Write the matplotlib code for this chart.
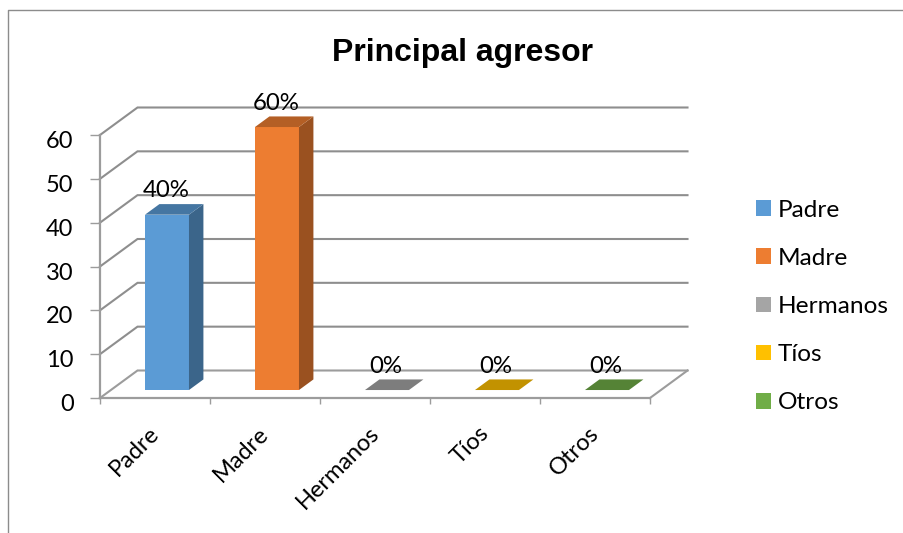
import numpy as np
import matplotlib
matplotlib.use("Agg")
import matplotlib.pyplot as plt
from matplotlib.colors import to_rgb
from matplotlib.patches import Patch, Polygon
from matplotlib.transforms import ScaledTranslation

# Data
categorias = ["Padre", "Madre", "Hermanos", "Tíos", "Otros"]
valores = [40, 60, 0, 0, 0]
etiquetas = ["40%", "60%", "0%", "0%", "0%"]
colores = ["#5B9BD5", "#ED7D31", "#A5A5A5", "#FFC000", "#70AD47"]
y_ticks = [0, 10, 20, 30, 40, 50, 60]

W, H = 904, 533
GRIS = "#9C9C9C"
plt.rcParams["font.family"] = ["Lato", "DejaVu Sans"]

fig = plt.figure(figsize=(W / 100, H / 100), dpi=100)
# front plane of the 3D box, in pixels: x 100-650, y 398-135
ax = fig.add_axes([100 / W, (H - 398) / H, 550 / W, 263 / H])
ax.set_xlim(0, 5)
ax.set_ylim(0, 60)
ax.patch.set_alpha(0)

# depth of the box expressed in data units
DX = 37.5 / 110
DY = 27.5 / (263 / 60)


def prof(x, y, d):
    return (x + d * DX, y + d * DY)


# walls: lines going back from the axis and along the back wall
for v in y_ticks:
    xs = [0, DX, 5 + DX]
    ys = [v, v + DY, v + DY]
    ax.plot(xs, ys, color="#8E8E8E" if v else GRIS, lw=1.5, clip_on=False, zorder=1,
            solid_joinstyle="miter")
ax.plot([5, 5 + DX], [0, DY], color=GRIS, lw=1.5, clip_on=False, zorder=1)

# bars as oblique boxes
ancho = 0.4
d0, d1 = 0.29, 0.675
for i, (v, c) in enumerate(zip(valores, colores)):
    x0 = i + 0.51 - ancho / 2
    x1 = x0 + ancho
    rgb = np.array(to_rgb(c))
    frente = [prof(x0, 0, d0), prof(x1, 0, d0), prof(x1, v, d0), prof(x0, v, d0)]
    lado = [prof(x1, 0, d0), prof(x1, 0, d1), prof(x1, v, d1), prof(x1, v, d0)]
    tapa = [prof(x0, v, d0), prof(x1, v, d0), prof(x1, v, d1), prof(x0, v, d1)]
    if v > 0:
        ax.add_patch(Polygon(frente, fc=c, ec="none", clip_on=False, zorder=3))
        ax.add_patch(Polygon(lado, fc=rgb * 0.65, ec="none", clip_on=False, zorder=3))
    ax.add_patch(Polygon(tapa, fc=rgb * 0.76, ec="none", clip_on=False, zorder=3))
    # data labels
    ax.annotate(etiquetas[i], xy=prof(i + 0.5, v, d0), xytext=(0, 24 * 0.72),
                textcoords="offset points", ha="center", va="center",
                fontsize=17.3, color="black", annotation_clip=False, zorder=5)

# axes
for s in ["top", "right"]:
    ax.spines[s].set_visible(False)
for s in ["left", "bottom"]:
    ax.spines[s].set_color(GRIS)
    ax.spines[s].set_linewidth(1.6)
    ax.spines[s].set_zorder(2)
ax.set_yticks(y_ticks)
ax.set_xticks(np.arange(0, 6))
ax.set_xticklabels([])
ax.tick_params(axis="y", length=7, width=1, color=GRIS, labelsize=17, pad=12)
ax.tick_params(axis="x", length=4.5, width=1, color=GRIS)
for t in ax.get_yticklabels():
    t.set_transform(t.get_transform() + ScaledTranslation(0, -4.5 / 100, fig.dpi_scale_trans))

# category labels, rotated
ax.set_xticks(np.arange(len(categorias)) + 0.5, minor=True)
ax.set_xticklabels(categorias, minor=True, rotation=45, ha="right", va="top",
                   rotation_mode="anchor", fontsize=17)
ax.tick_params(axis="x", which="minor", length=0, pad=17)
for t in ax.get_xticklabels(minor=True):
    t.set_transform(t.get_transform() + ScaledTranslation(-7 / 100, -1 / 100, fig.dpi_scale_trans))

fig.text(463 / W, 1 - 53 / H, "Principal agresor", ha="center", va="center",
         family="Liberation Sans", fontweight="bold", fontsize=23)

# legend
handles = [Patch(fc=c, ec="none", label=n) for n, c in zip(categorias, colores)]
fig.legend(handles=handles, loc="center left", bbox_to_anchor=(748.6 / W, 1 - 306.5 / H),
           frameon=False, fontsize=17.6, handlelength=0.61, handleheight=0.61,
           handletextpad=0.28, labelspacing=1.113, borderpad=0.3, borderaxespad=0)

# chart border (only left and top are visible in the image)
fig.add_artist(plt.Line2D([8 / W, 8 / W, 1], [0, 1 - 10 / H, 1 - 10 / H],
                          color="#8C8C8C", lw=1))

fig.savefig("out.png", dpi=100)
